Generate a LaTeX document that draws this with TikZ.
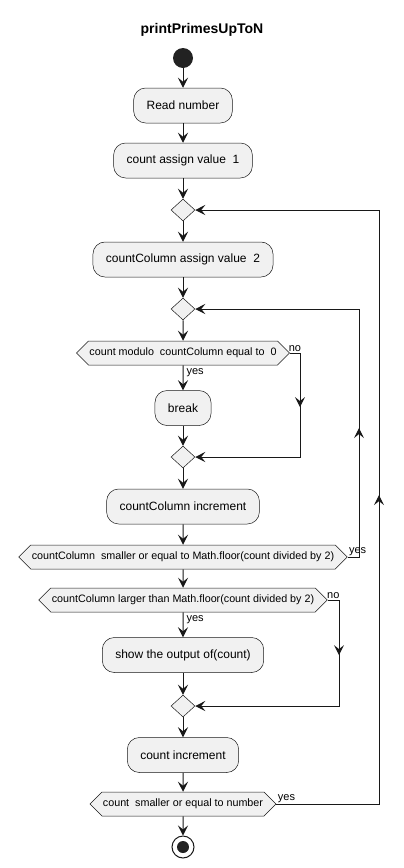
\documentclass[tikz,border=0pt]{standalone}
\usepackage{fontspec}
\setmainfont{Liberation Sans}
\usetikzlibrary{positioning,calc,shapes.geometric,shapes.symbols,arrows.meta,decorations.markings}
\definecolor{umlfill}{HTML}{F1F1F1}
\definecolor{umlline}{HTML}{181818}
\definecolor{umldot}{HTML}{222222}

\begin{document}
\begin{tikzpicture}[
        x=1pt, y=-1pt,
        act/.style={rectangle, draw=umlline, line width=0.5pt, fill=umlfill, rounded corners=12pt, minimum height=35pt, inner xsep=13pt, inner ysep=4pt, font=\fontsize{12}{14}\selectfont},
        test/.style={signal, signal to=east and west, signal pointer angle=90, draw=umlline, line width=0.5pt, fill=umlfill, minimum height=24pt, inner xsep=1pt, inner ysep=2pt, font=\fontsize{10.75}{12}\selectfont},
        merge/.style={diamond, draw=umlline, line width=0.5pt, fill=umlfill, minimum width=24pt, minimum height=22pt, inner sep=0pt},
        startdot/.style={circle, fill=umldot, minimum size=20pt, inner sep=0pt},
        stopdot/.style={circle, draw=umlline, line width=1pt, fill=white, minimum size=22pt, inner sep=0pt, path picture={\fill[umldot] (path picture bounding box.center) circle (6pt);}},
        lbl/.style={font=\fontsize{11}{13}\selectfont, inner sep=1pt},
        flow/.style={draw=umlline, line width=1pt, -{Stealth[length=10pt, width=10pt, inset=4pt]}},
        midtip/.style={draw=umlline, line width=1pt, postaction={decorate}, decoration={markings, mark=at position 0.52 with {\arrow{Stealth[length=10pt, width=10pt, inset=4pt]}}}}
    ]
    \useasboundingbox (0,0) rectangle (404,868);

    % Title and start
    \node[font=\bfseries\fontsize{14}{16}\selectfont] (title) at (202,30) {printPrimesUpToN};
    \node[startdot] (start) at (183,58) {};

    % Outer loop body
    \node[act] (readnum) at (183,105.5) {Read number};
    \node[act] (cntone) at (183,160.5) {count assign value\ \ 1};
    \node[merge] (dia1) at (183,210) {};
    \node[act] (coltwo) at (183,259.5) {countColumn assign value\ \ 2};

    % Inner loop body
    \node[merge] (dia2) at (183,309) {};
    \node[test] (modtest) at (183,353) {count modulo\ \ countColumn equal to\ \ 0};
    \node[act] (brk) at (183,408) {break};
    \node[merge] (dia3) at (183,457) {};
    \node[act] (colinc) at (183,506.5) {countColumn increment};
    \node[test] (letest) at (183,557) {countColumn\ \ smaller or equal to Math.floor(count divided by 2)};

    % After inner loop
    \node[test] (gttest) at (183,600) {countColumn larger than Math.floor(count divided by 2)};
    \node[act] (show) at (183,655) {show the output of(count)};
    \node[merge] (dia4) at (183,706) {};
    \node[act] (cntinc) at (183,755) {count increment};
    \node[test] (endtest) at (183,804) {count\ \ smaller or equal to number};
    \node[stopdot] (stop) at (183,847) {};

    % Columns for the side lines
    \coordinate (colno) at (300,0);
    \coordinate (colin) at (359,0);
    \coordinate (colnotwo) at (339,0);
    \coordinate (colout) at (379,0);

    % Main flow
    \draw[flow] (start) -- (readnum);
    \draw[flow] (readnum) -- (cntone);
    \draw[flow] (cntone) -- (dia1);
    \draw[flow] (dia1) -- (coltwo);
    \draw[flow] (coltwo) -- (dia2);
    \draw[flow] (dia2) -- (modtest);
    \draw[flow] (modtest) -- node[lbl, anchor=west, pos=0.3, inner xsep=3pt] {yes} (brk);
    \draw[flow] (brk) -- (dia3);
    \draw[flow] (dia3) -- (colinc);
    \draw[flow] (colinc) -- (letest);
    \draw[flow] (letest) -- (gttest);
    \draw[flow] (gttest) -- node[lbl, anchor=west, pos=0.3, inner xsep=3pt] {yes} (show);
    \draw[flow] (show) -- (dia4);
    \draw[flow] (dia4) -- (cntinc);
    \draw[flow] (cntinc) -- (endtest);
    \draw[flow] (endtest) -- (stop);

    % No branches
    \draw[flow] (modtest.east) -- node[lbl, above] {no} (modtest.east -| colno) |- (dia3.east);
    \draw[midtip] (modtest.east -| colno) -- (dia3.east -| colno);
    \draw[flow] (gttest.east) -- node[lbl, above] {no} (gttest.east -| colnotwo) |- (dia4.east);
    \draw[midtip] (gttest.east -| colnotwo) -- (dia4.east -| colnotwo);

    % Loop backs
    \draw[flow] (letest.east) -- node[lbl, anchor=south west, pos=0] {yes} (letest.east -| colin) |- (dia2.east);
    \draw[midtip] (letest.east -| colin) -- (dia2.east -| colin);
    \draw[flow] (endtest.east) -- node[lbl, anchor=south west, pos=0] {yes} (endtest.east -| colout) |- (dia1.east);
    \draw[midtip] (endtest.east -| colout) -- (dia1.east -| colout);

\end{tikzpicture}
\end{document}
